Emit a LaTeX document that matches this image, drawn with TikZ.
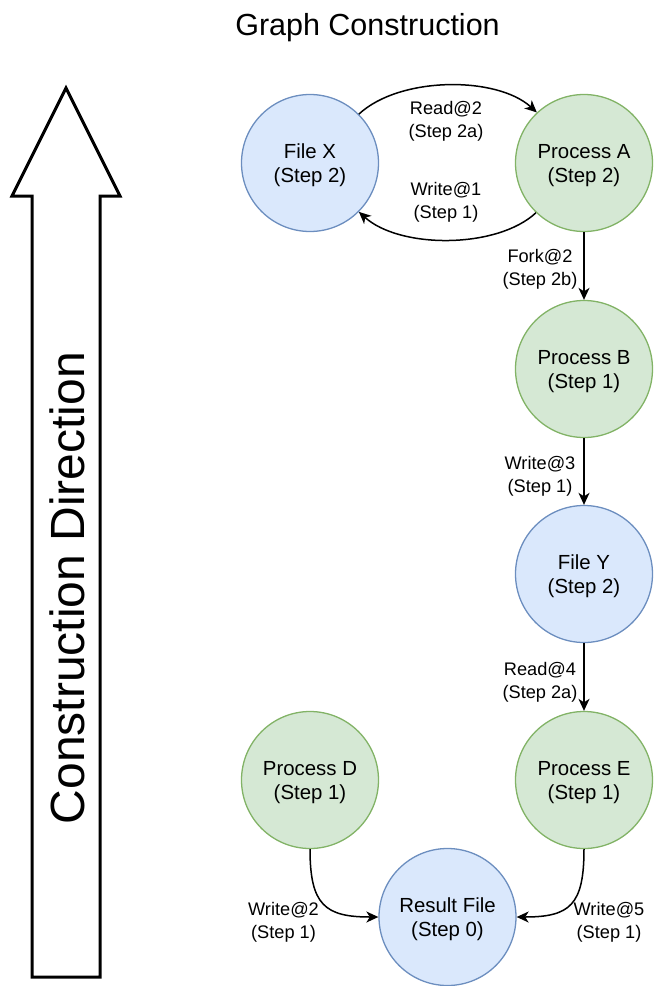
\documentclass[tikz,border=0pt]{standalone}
\usepackage{fontspec}
\setmainfont{Liberation Sans}
\usetikzlibrary{arrows.meta}
\definecolor{fileFill}{HTML}{DAE8FC}
\definecolor{fileLine}{HTML}{6C8EBF}
\definecolor{procFill}{HTML}{D5E8D4}
\definecolor{procLine}{HTML}{82B366}

\begin{document}
\begin{tikzpicture}[x=1pt,y=-1pt,
  state/.style={circle, minimum size=137pt, inner sep=0pt, line width=1.3pt,
    align=center, text depth=0pt, font=\fontsize{20.4}{24}\selectfont},
  filenode/.style={state, draw=fileLine, fill=fileFill},
  procnode/.style={state, draw=procLine, fill=procFill},
  flow/.style={line width=1.5pt, -{Stealth[length=12pt,width=11pt,inset=3.5pt]}},
  elabel/.style={align=center, font=\fontsize{18.2}{23}\selectfont, inner sep=1pt},
]
\useasboundingbox (0,0) rectangle (654,986);

% title
\node[font=\fontsize{30.5}{36}\selectfont] (title) at (367.5,28) {Graph Construction};

% construction direction arrow
\draw[line width=3pt, line join=miter]
  (66,88) -- (120,196) -- (100,196) -- (100,977) -- (32,977) -- (32,196) -- (12,196) -- cycle;
\node[rotate=90, font=\fontsize{48}{56}\selectfont] (dir) at (67,588) {Construction Direction};

% nodes
\node[filenode] (fx) at (310,163) {File X\\(Step 2)};
\node[procnode] (pa) at (584,163) {Process A\\(Step 2)};
\node[procnode] (pb) at (584,369) {Process B\\(Step 1)};
\node[filenode] (fy) at (584,574) {File Y\\(Step 2)};
\node[procnode] (pe) at (584,780) {Process E\\(Step 1)};
\node[procnode] (pd) at (310,780) {Process D\\(Step 1)};
\node[filenode] (rf) at (447.5,917) {Result File\\(Step 0)};

% connectors
\draw[flow] (fx.45) .. controls (400,76) and (497,76) .. (pa.133);
\draw[flow] (pa.226) .. controls (497,249) and (400,249) .. (fx.-45);
\draw[flow] (pa) -- (pb);
\draw[flow] (pb) -- (fy);
\draw[flow] (fy) -- (pe);
\draw[flow] (pd.south) .. controls (310,905) and (325,917) .. (rf.west);
\draw[flow] (pe.south) .. controls (584,905) and (570,917) .. (rf.east);

% connector labels
\node[elabel] (l1) at (446,121) {Read@2\\(Step 2a)};
\node[elabel] (l2) at (446,202) {Write@1\\(Step 1)};
\node[elabel] (l3) at (540,269) {Fork@2\\(Step 2b)};
\node[elabel] (l4) at (540,476) {Write@3\\(Step 1)};
\node[elabel] (l5) at (540,682) {Read@4\\(Step 2a)};
\node[elabel] (l6) at (283.5,922) {Write@2\\(Step 1)};
\node[elabel] (l7) at (609,922) {Write@5\\(Step 1)};
\end{tikzpicture}
\end{document}
